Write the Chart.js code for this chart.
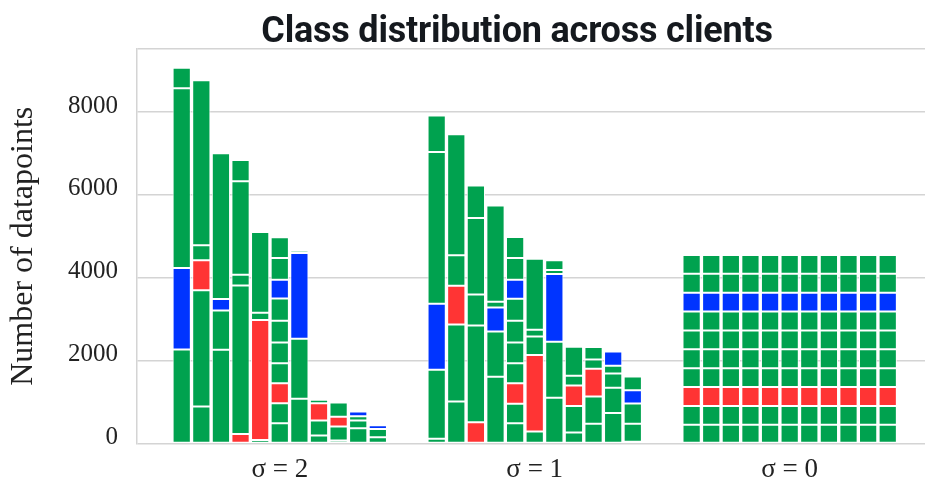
<!DOCTYPE html>
<html>
<head>
<meta charset="utf-8">
<title>Class distribution across clients</title>
<script src="https://cdn.jsdelivr.net/npm/chart.js@4.4.1/dist/chart.umd.min.js"></script>
<style>
  html, body { margin: 0; padding: 0; background: #ffffff; }
  #wrap { width: 925px; height: 484px; }
  canvas { display: block; }
</style>
</head>
<body>
<div id="wrap"><canvas id="chart" width="925" height="484"></canvas></div>
<script>
// ---- data -------------------------------------------------------------
const chartTitle = 'Class distribution across clients';
const groupLabels = ['σ = 2', 'σ = 1', 'σ = 0'];
const classNames = ['0', '1', '2', '3', '4', '5', '6', '7', '8', '9'];
const redClass = 2;
const blueClass = 7;

// samples per class (class 0 .. class 9) for each of the 11 clients
const sigma2 = [
  [2272,    0,    0,    0,    0,    0,    0, 1965, 4339,  491],
  [ 895, 2802,  724,  362, 3986,    0,    0,    0,    0,    0],
  [2263,  950,    0,    0,    0,    0,    0,  274, 3519,    0],
  [   0,    0,  234, 3583,  258, 2254,  516,    0,    0,    0],
  [  85,    0, 2895,  177, 1949,    0,    0,    0,    0,    0],
  [ 492,  483,  483,  483,  499,  524,  539,  451,  524,  499],
  [1080, 1449,    0,    0,    0,    0,    0, 2069,   57,    0],
  [ 194,  362,  419,   81,    0,    0,    0,    0,    0,    0],
  [  77,  334,  234,  345,    0,    0,    0,    0,    0,    0],
  [ 372,  184,    0,  106,    0,    0,    0,  111,    0,    0],
  [ 155,  200,    0,    0,    0,    0,    0,   89,   49,    0]
];
const sigma1 = [
  [ 118, 1662,    0,    0,    0,    0,    0, 1594, 3664,  878],
  [1015, 1860,  934,  733, 2923,    0,    0,    0,    0,    0],
  [   0,    0,  516, 2335,  749, 1844,  781,    0,    0,    0],
  [1611, 1095,    0,    0,    0,    0,    0,  580,  137, 2319],
  [ 492,  467,  499,  483,  499,  524,  531,  459,  524,  507],
  [ 291,    0, 1844,  450,  161, 1715,    0,    0,    0,    0],
  [1104, 1353,    0,    0,    0,    0,    0, 1634,   97,  233],
  [ 270,  637,  495,  233,  701,    0,    0,    0,    0,    0],
  [ 480,  656,  668,  226,  298,    0,    0,    0,    0,    0],
  [ 740,  605,    0,  347,  185,    0,    0,  346,    0,    0],
  [  45,  435,    0,  490,    0,    0,    0,  320,  329,    0]
];
const sigma0 = [
  [455, 455, 455, 455, 455, 455, 455, 455, 455, 455],
  [455, 455, 455, 455, 455, 455, 455, 455, 455, 455],
  [455, 455, 455, 455, 455, 455, 455, 455, 455, 455],
  [455, 455, 455, 455, 455, 455, 455, 455, 455, 455],
  [455, 455, 455, 455, 455, 455, 455, 455, 455, 455],
  [455, 455, 455, 455, 455, 455, 455, 455, 455, 455],
  [455, 455, 455, 455, 455, 455, 455, 455, 455, 455],
  [455, 455, 455, 455, 455, 455, 455, 455, 455, 455],
  [455, 455, 455, 455, 455, 455, 455, 455, 455, 455],
  [455, 455, 455, 455, 455, 455, 455, 455, 455, 455],
  [455, 455, 455, 455, 455, 455, 455, 455, 455, 455]
];
const yTickValues = [0, 2000, 4000, 6000, 8000];
const yAxisMax = 9520;

// ---- layout helpers -------------------------------------------------
const groups = [sigma2, sigma1, sigma0];
const clientsPerGroup = 11;
const groupStride = clientsPerGroup + 2;          // two empty slots between groups
const groupCenter = g => g * groupStride + (clientsPerGroup - 1) / 2;

const GREEN = '#00a24f';
const RED = '#ff3434';
const BLUE = '#0034ff';
const colorFor = c => (c === redClass ? RED : c === blueClass ? BLUE : GREEN);

const datasets = classNames.map((name, c) => ({
  label: 'class ' + name,
  data: groups.flatMap((clients, g) =>
    clients.map((row, i) => ({ x: g * groupStride + i, y: row[c] }))),
  backgroundColor: colorFor(c),
  borderColor: '#ffffff',
  borderWidth: 1,
  borderSkipped: false,
  inflateAmount: 0,
  barPercentage: 0.93,
  categoryPercentage: 1.0
}));

// bold title drawn above the plot area
const titlePlugin = {
  id: 'tightTitle',
  afterDraw(chart) {
    const ctx = chart.ctx;
    ctx.save();
    ctx.font = 'bold 36px Roboto';
    if ('letterSpacing' in ctx) ctx.letterSpacing = '-0.2px';
    ctx.fillStyle = '#15191e';
    ctx.textAlign = 'center';
    ctx.textBaseline = 'alphabetic';
    ctx.fillText(chartTitle, 517, 41.5);
    ctx.restore();
  }
};

const serif = "'Liberation Serif', 'Times New Roman', serif";
const gridGrey = '#d4d4d4';

new Chart(document.getElementById('chart'), {
  type: 'bar',
  data: { datasets },
  plugins: [titlePlugin],
  options: {
    responsive: false,
    devicePixelRatio: 1,
    animation: false,
    events: [],
    layout: { padding: { top: 49, left: 0, right: 0, bottom: 0 } },
    plugins: {
      legend: { display: false },
      tooltip: { enabled: false },
      title: { display: false }
    },
    scales: {
      x: {
        type: 'linear',
        stacked: true,
        offset: false,
        bounds: 'data',
        grace: 0,
        min: -2.28,
        max: 37.9,
        grid: { display: false, drawTicks: false, offset: false },
        border: { display: false },
        afterBuildTicks: axis => {
          axis.ticks = groupLabels.map((_, g) => ({ value: groupCenter(g) }));
        },
        afterFit: scale => { scale.height = 40.4; },
        ticks: {
          autoSkip: false,
          maxRotation: 0,
          padding: 10,
          color: '#222222',
          font: { family: serif, size: 27 },
          callback: value => {
            const g = groupLabels.findIndex((_, k) => Math.abs(groupCenter(k) - value) < 1e-6);
            return g >= 0 ? groupLabels[g] : '';
          }
        }
      },
      y: {
        stacked: true,
        min: 0,
        max: yAxisMax,
        afterBuildTicks: axis => {
          axis.ticks = yTickValues.concat([yAxisMax]).map(v => ({ value: v }));
        },
        afterFit: scale => { scale.width = 137; },
        grid: { color: gridGrey, lineWidth: 1.5, drawTicks: false },
        border: { display: true, color: gridGrey, width: 1.5 },
        ticks: {
          padding: 19,
          labelOffset: -6,
          color: '#222222',
          font: { family: serif, size: 25 },
          callback: value => (yTickValues.includes(value) ? String(value) : '')
        },
        title: {
          display: true,
          text: 'Number of datapoints',
          color: '#222222',
          font: { family: serif, size: 32 },
          padding: { top: 4, bottom: 0 }
        }
      }
    }
  }
});
</script>
</body>
</html>
